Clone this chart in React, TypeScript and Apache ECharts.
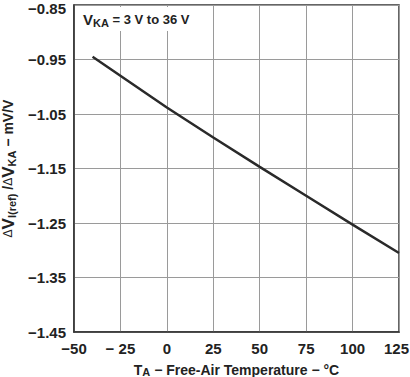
import React, { useEffect, useRef } from "react";
import * as echarts from "echarts";

const temps = [-40, 0, 25, 50, 75, 100, 125];
const ratio = [-0.945, -1.038, -1.093, -1.147, -1.2, -1.253, -1.305];
const yTicks = [-1.45, -1.35, -1.25, -1.15, -1.05, -0.95, -0.85];
const xTicks = [-50, -25, 0, 25, 50, 75, 100, 125];

const FONT = "Liberation Sans, Arial, sans-serif";
const labelBase = { fontFamily: FONT, fontWeight: "bold", fontSize: 15, color: "#222" };

export default function App() {
  const ref = useRef<HTMLDivElement>(null);
  useEffect(() => {
    const chart = echarts.init(ref.current!, null, { renderer: "svg" });
    chart.setOption({
      animation: false,
      grid: {
        left: 74, right: 11, top: 5, bottom: 45,
        show: true, borderColor: "#333", borderWidth: 1.5,
        containLabel: false, outerBoundsMode: "none",
      },
      xAxis: {
        type: "value",
        min: xTicks[0],
        max: xTicks[xTicks.length - 1],
        interval: 25,
        axisLine: { show: true, onZero: false, lineStyle: { color: "#333", width: 1.5 } },
        axisTick: { show: false },
        splitLine: { show: true, lineStyle: { color: "#9a9a9a", width: 1 } },
        axisLabel: {
          margin: 9,
          ...labelBase,
          rich: { r: { ...labelBase, padding: [0, 5, 0, 0] } },
          formatter: (v: number) => {
            if (v === xTicks[xTicks.length - 1]) return "{r|" + v + "}";
            return v < 0 ? (v === -25 ? "\u2212 25" : "\u2212" + Math.abs(v)) : String(v);
          },
        },
        name: "{b|T}{s|A}{b| \u2212 Free-Air Temperature \u2212 \u00b0C}",
        nameLocation: "middle",
        nameGap: 26,
        nameTextStyle: {
          rich: {
            b: { fontFamily: FONT, fontWeight: "bold", fontSize: 14, color: "#222", lineHeight: 16 },
            s: { fontFamily: FONT, fontWeight: "bold", fontSize: 11, color: "#222", lineHeight: 16, verticalAlign: "bottom", padding: [6, 0, 0, 0] },
          },
        },
      },
      yAxis: {
        type: "value",
        min: -1.45,
        max: -0.85,
        interval: 0.1,
        axisLine: { show: true, onZero: false, lineStyle: { color: "#333", width: 1.5 } },
        axisTick: { show: false },
        splitLine: { show: true, lineStyle: { color: "#9a9a9a", width: 1 } },
        axisLabel: {
          margin: 8,
          ...labelBase,
          rich: { t: { ...labelBase, padding: [6, 0, 0, 0] } },
          formatter: (v: number) => {
            const t = yTicks.find((k) => Math.abs(k - v) < 1e-6);
            if (t === undefined) return "";
            const s = "\u2212" + Math.abs(t).toFixed(2);
            return t === yTicks[yTicks.length - 1] ? "{t|" + s + "}" : s;
          },
        },
        name: "{d|\u0394}{b|V}{s|I(ref)}{m| /}{d|\u0394}{b|V}{s|KA}{m| \u2212 mV/V}",
        nameLocation: "middle",
        nameRotate: 90,
        nameGap: 54,
        nameTextStyle: {
          rich: {
            d: { fontFamily: FONT, fontSize: 12, color: "#222", lineHeight: 18 },
            b: { fontFamily: FONT, fontWeight: "bold", fontSize: 17, color: "#222", lineHeight: 18 },
            m: { fontFamily: FONT, fontWeight: "bold", fontSize: 14, color: "#222", lineHeight: 18 },
            s: { fontFamily: FONT, fontWeight: "bold", fontSize: 11, color: "#222", lineHeight: 18, verticalAlign: "bottom", padding: [6, 0, 0, 0] },
          },
        },
      },
      series: [
        {
          type: "line",
          data: temps.map((t, i) => [t, ratio[i]]),
          showSymbol: false,
          lineStyle: { color: "#2a2a2a", width: 2.5 },
          smooth: false,
        },
      ],
      graphic: [
        { type: "rect", shape: { x: 77, y: 7, width: 112, height: 24 }, style: { fill: "#fff" }, z: 100 },
        {
          type: "text",
          x: 83,
          y: 19,
          z: 101,
          style: {
            text: "{b|V}{s|KA}{m| = 3 V to 36 V}",
            verticalAlign: "middle",
            rich: {
              b: { fontFamily: FONT, fontWeight: "bold", fontSize: 15, fill: "#222", lineHeight: 18 },
              m: { fontFamily: FONT, fontWeight: "bold", fontSize: 13, fill: "#222", lineHeight: 18 },
              s: { fontFamily: FONT, fontWeight: "bold", fontSize: 11, fill: "#222", lineHeight: 18, verticalAlign: "bottom", padding: [7, 0, 0, 0] },
            },
          },
        },
      ],
    });
    return () => chart.dispose();
  }, []);
  return <div ref={ref} style={{ width: 410, height: 377, position: "absolute", left: 0, top: 0 }} />;
}
